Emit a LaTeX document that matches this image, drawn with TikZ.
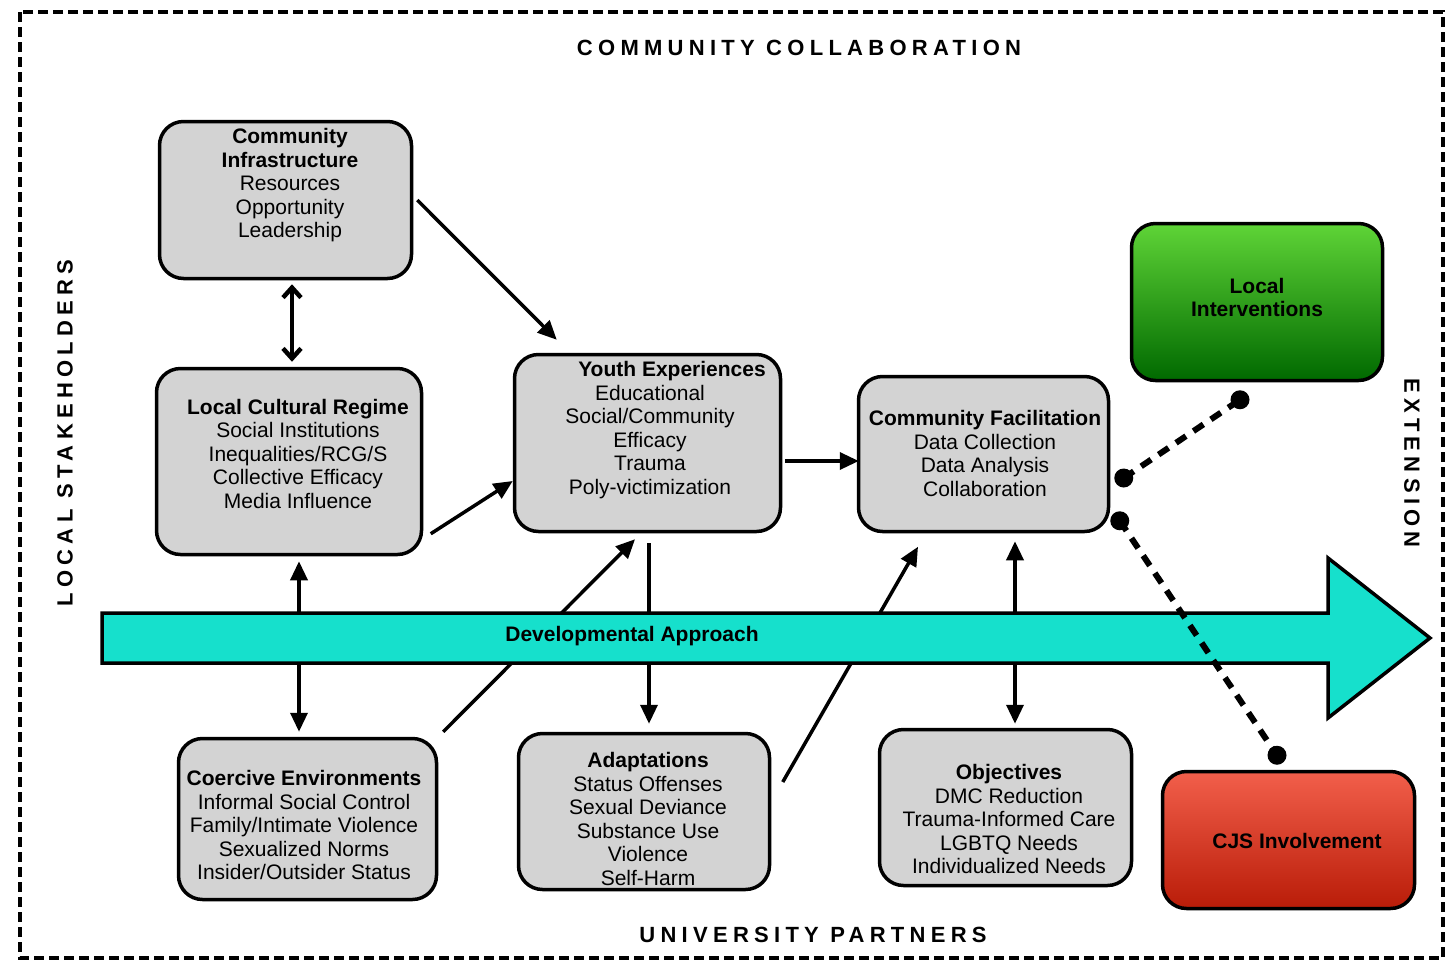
\documentclass[tikz,border=0pt]{standalone}
\usepackage{fontspec}
\setmainfont{Liberation Sans}
\usetikzlibrary{arrows.meta,calc}
\definecolor{boxgray}{RGB}{211,211,211}
\definecolor{turq}{RGB}{22,224,204}
\definecolor{gtop}{RGB}{95,212,55}
\definecolor{gbot}{RGB}{0,105,0}
\definecolor{rtop}{RGB}{242,95,75}
\definecolor{rbot}{RGB}{185,28,8}
\begin{document}
\begin{tikzpicture}[x=1pt,y=-1pt,
  box/.style={draw, line width=3.5pt, rounded corners=24pt, fill=boxgray, inner sep=0pt},
  boxtext/.style={align=center, inner sep=0pt, font=\fontsize{21}{23.5}\selectfont},
  arr/.style={line width=3.5pt, -{Triangle[length=19pt,width=17pt]}},
  dbl/.style={line width=4.5pt, {Straight Barb[length=10pt,width=18pt]}-{Straight Barb[length=10pt,width=18pt]}},
  dlink/.style={line width=6pt, dash pattern=on 12pt off 9pt},
  caption/.style={font=\fontsize{22}{26}\selectfont\bfseries\addfontfeatures{LetterSpace=24}, inner sep=0pt}
]
\useasboundingbox (0,0) rectangle (1449,962);
\fill[white] (0,0) rectangle (1449,962);
% outer border
\draw[line width=4.5pt, dash pattern=on 10pt off 5pt] (20,12) rectangle (1443,958);
% captions
\node[caption] (capTop) at (799,48) {COMMUNITY COLLABORATION};
\node[caption] (capBot) at (813,935) {UNIVERSITY PARTNERS};
\node[caption, rotate=90] (capLeft) at (65,433) {LOCAL STAKEHOLDERS};
\node[caption, rotate=-90] (capRight) at (1412,463) {EXTENSION};
% boxes
\node[box, minimum width=252pt, minimum height=157pt] (infra) at (285.5,200) {};
\node[box, minimum width=265pt, minimum height=186pt] (lcr) at (289,461.5) {};
\node[box, minimum width=266pt, minimum height=177pt] (youth) at (647.5,443) {};
\node[box, minimum width=250pt, minimum height=155pt] (cfac) at (983.5,454) {};
\node[box, minimum width=251pt, minimum height=157pt, top color=gtop, bottom color=gbot] (locint) at (1257,302) {};
\node[box, minimum width=252pt, minimum height=137pt, top color=rtop, bottom color=rbot] (cjs) at (1288.5,840) {};
\node[box, minimum width=258pt, minimum height=161pt] (coer) at (307.5,819) {};
\node[box, minimum width=251pt, minimum height=156pt] (adapt) at (644,811.5) {};
\node[box, minimum width=252pt, minimum height=156pt] (obj) at (1005.5,807.5) {};
% box texts
\node[boxtext] (infraT) at (290,185.5) {\textbf{Community}\\\textbf{Infrastructure}\\Resources\\Opportunity\\Leadership};
\node[boxtext] (lcrT) at (298,453.5) {\textbf{Local Cultural Regime}\\Social Institutions\\Inequalities/RCG/S\\Collective Efficacy\\Media Influence};
\node[boxtext] (youthT) at (650,430) {\hspace*{44pt}\textbf{Youth Experiences}\\Educational\\Social/Community\\Efficacy\\Trauma\\Poly-victimization};
\node[boxtext] (cfacT) at (985,453.5) {\textbf{Community Facilitation}\\Data Collection\\Data Analysis\\Collaboration};
\node[boxtext] (locintT) at (1257,297.5) {\textbf{Local}\\\textbf{Interventions}};
\node[boxtext] (cjsT) at (1297,841) {\textbf{CJS Involvement}};
\node[boxtext] (coerT) at (304,825) {\textbf{Coercive Environments}\\Informal Social Control\\Family/Intimate Violence\\Sexualized Norms\\Insider/Outsider Status};
\node[boxtext] (adaptT) at (648,819) {\textbf{Adaptations}\\Status Offenses\\Sexual Deviance\\Substance Use\\Violence\\Self-Harm};
\node[boxtext] (objT) at (1009,819) {\textbf{Objectives}\\DMC Reduction\\Trauma-Informed Care\\LGBTQ Needs\\Individualized Needs};
% connectors passing behind the developmental arrow
\draw[arr] ($(coer.north east)+(5,-5)$) -- ($(youth.south)+(-12.5,6)$);
\draw[arr] ($(youth.south)+(1.5,10)$) -- ($(adapt.north)+(5,-8)$);
\draw[arr] ($(adapt.east)+(11.5,-29.5)$) -- ($(cfac.south)+(-65.5,13.5)$);
% developmental approach arrow
\draw[line width=3.5pt, fill=turq, line join=miter] (102,613) -- (1328,613) -- (1328,558) -- (1430,638) -- (1328,718) -- (1328,663) -- (102,663) -- cycle;
\node[font=\fontsize{21}{24}\selectfont\bfseries, inner sep=0pt] (devlabel) at (632,636) {Developmental Approach};
\coordinate (d1) at (299,612);
\coordinate (d2) at (299,664);
\coordinate (d3) at (1015,612);
\coordinate (d4) at (1015,664);
% other connectors
\draw[dbl] ($(infra.south)+(6.5,4)$) -- ($(lcr.north)+(3,-5)$);
\draw[arr] ($(infra.east)+(4,0)$) -- ($(youth.north west)+(44,-13)$);
\draw[arr] ($(lcr.south east)+(7.5,-22.5)$) -- ($(youth.west)+(0,38)$);
\draw[arr] (d1) -- ($(lcr.south)+(10,5)$);
\draw[arr] (d2) -- ($(coer.north)+(-8.5,-5)$);
\draw[arr] ($(youth.east)+(2.5,18)$) -- ($(cfac.west)+(2,7)$);
\draw[arr] (d3) -- ($(cfac.south)+(31.5,8)$);
\draw[arr] (d4) -- ($(obj.north)+(9.5,-4)$);
% dashed links with dots
\coordinate (e1) at ($(cfac.east)+(13.5,24)$);
\coordinate (e2) at ($(locint.south)+(-17,17.5)$);
\coordinate (e3) at ($(cfac.south east)+(9.5,-12.5)$);
\coordinate (e4) at ($(cjs.north)+(-11.5,-14.5)$);
\draw[dlink] (e1) -- (e2);
\draw[dlink] (e3) -- (e4);
\fill (e1) circle (9.5pt);
\fill (e2) circle (9.5pt);
\fill (e3) circle (9.5pt);
\fill (e4) circle (9.5pt);
\end{tikzpicture}
\end{document}
